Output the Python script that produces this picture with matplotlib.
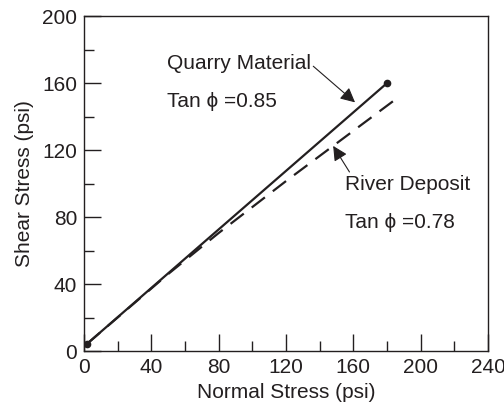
import matplotlib
matplotlib.use('Agg')
import matplotlib.pyplot as plt
from matplotlib.ticker import MultipleLocator

plt.rcParams['font.family'] = ['Liberation Sans', 'DejaVu Sans']

# data
quarry_normal = [2, 180]
quarry_shear = [4.5, 160]
river_normal = [2, 50, 80, 120, 186]
river_shear = [4.5, 46, 70.5, 101.5, 151]

x_ticks = [0, 40, 80, 120, 160, 200, 240]
y_ticks = [0, 40, 80, 120, 160, 200]

ink = '#231f20'
fs = 15

fig = plt.figure(figsize=(5.04, 4.13), dpi=100)
ax = fig.add_axes([0.1667, 0.150, 0.8016, 0.811])

# failure envelopes
ax.plot(quarry_normal, quarry_shear, color=ink, lw=1.6, marker='o', ms=4.5)
ax.plot(river_normal, river_shear, color=ink, lw=1.6, dashes=(7.5, 4.5))

# labels with arrows
ax.annotate('Quarry Material', xy=(161, 148.5), xytext=(49, 171.5),
            fontsize=fs, color=ink, va='center', ha='left',
            arrowprops=dict(arrowstyle='-|>', color=ink, lw=0.8,
                            mutation_scale=22, shrinkA=0, shrinkB=0,
                            relpos=(1, 0.5)))
ax.text(49, 148.8, 'Tan \u03d5 =0.85', fontsize=fs, color=ink, va='center', ha='left')

ax.annotate('River Deposit', xy=(148, 122.5), xytext=(155, 99.6),
            fontsize=fs, color=ink, va='center', ha='left',
            arrowprops=dict(arrowstyle='-|>', color=ink, lw=0.8,
                            mutation_scale=22, shrinkA=0, shrinkB=0,
                            relpos=(0.05, 1.0)))
ax.text(155, 76.6, 'Tan \u03d5 =0.78', fontsize=fs, color=ink, va='center', ha='left')

# axes
ax.set_xlim(0, 240)
ax.set_ylim(0, 200)
ax.set_xticks(x_ticks)
ax.set_yticks(y_ticks)
ax.xaxis.set_minor_locator(MultipleLocator(20))
ax.yaxis.set_minor_locator(MultipleLocator(20))
ax.tick_params(which='both', direction='in', top=False, right=False,
               colors=ink, labelsize=fs, width=1)
ax.tick_params(which='major', length=12, pad=5)
ax.tick_params(which='minor', length=7)
for s in ax.spines.values():
    s.set_color(ink)
    s.set_linewidth(1)

ax.set_xlabel('Normal Stress (psi)', fontsize=fs, color=ink, labelpad=4)
ax.set_ylabel('Shear Stress (psi)', fontsize=fs, color=ink, labelpad=6)

fig.savefig('out.png', dpi=100)
